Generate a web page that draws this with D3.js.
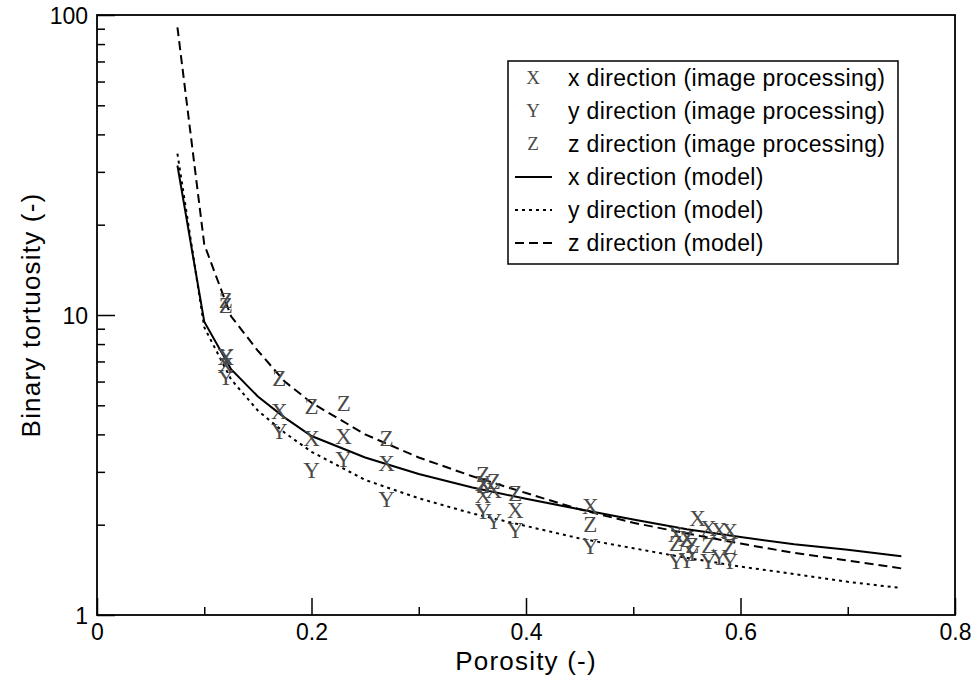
<!DOCTYPE html>
<html>
<head>
<meta charset="utf-8">
<script src="https://cdn.jsdelivr.net/npm/d3@7"></script>
<style>
  body { margin: 0; background: #fff; }
  text { font-family: "Liberation Sans", Arial, sans-serif; }
  .mark { font-family: "Liberation Serif", "Times New Roman", serif; fill: #4a4a4a; }
</style>
</head>
<body>
<svg id="chart" width="975" height="683"></svg>
<script>
//-------------------------------------------------
// Data
//-------------------------------------------------
// model curves, porosity values
var modelPorosity = [0.075, 0.1, 0.125, 0.15, 0.175, 0.2, 0.25, 0.3, 0.35, 0.4, 0.45, 0.5, 0.55, 0.6, 0.65, 0.7, 0.75];
var modelX = [31.5, 9.5, 6.6, 5.35, 4.55, 3.95, 3.35, 2.95, 2.66, 2.44, 2.25, 2.08, 1.93, 1.82, 1.72, 1.65, 1.57];
var modelY = [34.5, 9.1, 6.1, 4.8, 4.05, 3.5, 2.82, 2.45, 2.18, 1.98, 1.80, 1.67, 1.55, 1.45, 1.37, 1.29, 1.23];
var modelZ = [91, 17.2, 9.9, 7.6, 6.0, 5.1, 4.0, 3.35, 2.9, 2.55, 2.25, 2.03, 1.87, 1.73, 1.61, 1.52, 1.43];

// image processing points [porosity, tortuosity]
var imgX = [[0.12, 6.8], [0.12, 7.2], [0.17, 4.76], [0.2, 3.88], [0.23, 3.93], [0.27, 3.2],
  [0.36, 2.75], [0.36, 2.51], [0.37, 2.6], [0.39, 2.23], [0.46, 2.30],
  [0.54, 1.85], [0.55, 1.8], [0.56, 2.10], [0.57, 1.94], [0.58, 1.92], [0.59, 1.90]];
var imgY = [[0.12, 6.2], [0.12, 7.3], [0.17, 4.08], [0.2, 3.04], [0.23, 3.29], [0.27, 2.42],
  [0.36, 2.21], [0.37, 2.05], [0.39, 1.91], [0.46, 1.69],
  [0.54, 1.51], [0.55, 1.52], [0.555, 1.6], [0.57, 1.51], [0.58, 1.55], [0.59, 1.51]];
var imgZ = [[0.12, 11.2], [0.12, 10.8], [0.17, 6.15], [0.2, 4.95], [0.23, 5.08], [0.27, 3.88],
  [0.36, 2.95], [0.36, 2.7], [0.37, 2.78], [0.39, 2.55], [0.46, 2.0],
  [0.54, 1.73], [0.55, 1.78], [0.555, 1.71], [0.57, 1.71], [0.59, 1.69]];

var xMajor = [0, 0.2, 0.4, 0.6, 0.8];
var xMinor = [0.1, 0.3, 0.5, 0.7];
var yMajor = [1, 10, 100];
var yMinor = [2, 3, 4, 5, 6, 7, 8, 9, 20, 30, 40, 50, 60, 70, 80, 90];

var legendLabels = ["x direction (image processing)", "y direction (image processing)", "z direction (image processing)",
  "x direction (model)", "y direction (model)", "z direction (model)"];
//-------------------------------------------------

var margin = {top: 15, right: 20, bottom: 68, left: 97};
var width = 975 - margin.left - margin.right;
var height = 683 - margin.top - margin.bottom;

var svg = d3.select("#chart");
var g = svg.append("g").attr("transform", "translate(" + margin.left + "," + margin.top + ")");

var x = d3.scaleLinear().domain([0, 0.8]).range([0, width]);
var y = d3.scaleLog().domain([1, 100]).range([height, 0]);

// line styles
var styles = [
  {dash: null},
  {dash: "3,4"},
  {dash: "9,5"}
];

// curves
var line = d3.line()
  .x(function(d) { return x(d[0]); })
  .y(function(d) { return y(d[1]); });

[modelX, modelY, modelZ].forEach(function(vals, i) {
  var pts = modelPorosity.map(function(p, j) { return [p, vals[j]]; });
  g.append("path")
    .datum(pts)
    .attr("d", line)
    .attr("fill", "none")
    .attr("stroke", "#000")
    .attr("stroke-width", 2)
    .attr("stroke-dasharray", styles[i].dash);
});

// point markers drawn as letters
var markFont = 23;
[[imgX, "X"], [imgY, "Y"], [imgZ, "Z"]].forEach(function(s) {
  g.selectAll(null)
    .data(s[0])
    .enter()
    .append("text")
    .attr("class", "mark")
    .attr("x", function(d) { return x(d[0]); })
    .attr("y", function(d) { return y(d[1]) + markFont * 0.33; })
    .attr("text-anchor", "middle")
    .style("font-size", markFont + "px")
    .text(s[1]);
});

// axes
var xAxis = g.append("g").attr("transform", "translate(0," + height + ")")
  .call(d3.axisBottom(x).tickValues(xMajor).tickSize(-17).tickPadding(9)
    .tickFormat(function(d) { return d === 0 ? "0" : d3.format(".1f")(d); }));
xAxis.append("g")
  .call(d3.axisBottom(x).tickValues(xMinor).tickSize(-8).tickFormat(""));

var yAxis = g.append("g")
  .call(d3.axisLeft(y).tickValues(yMajor).tickSize(-18).tickPadding(9).tickFormat(d3.format("d")));
yAxis.append("g")
  .call(d3.axisLeft(y).tickValues(yMinor).tickSize(-8).tickFormat(""));

g.selectAll(".domain").remove();
g.selectAll(".tick line").attr("stroke", "#000").attr("stroke-width", 1.5);
xAxis.selectAll("text").style("font-size", "23px").attr("fill", "#000");
yAxis.selectAll("text").style("font-size", "23px").attr("fill", "#000").attr("dy", "0.36em");

// frame
g.append("rect")
  .attr("width", width)
  .attr("height", height)
  .attr("fill", "none")
  .attr("stroke", "#000")
  .attr("stroke-width", 1.8);

// axis titles
svg.append("text")
  .attr("x", margin.left + width / 2)
  .attr("y", 670)
  .attr("text-anchor", "middle")
  .style("font-size", "26px")
  .style("letter-spacing", "1.2px")
  .text("Porosity (-)");

svg.append("text")
  .attr("transform", "translate(40," + (margin.top + height / 2) + ") rotate(-90)")
  .attr("text-anchor", "middle")
  .style("font-size", "26px")
  .style("letter-spacing", "1.2px")
  .text("Binary tortuosity (-)");

// legend
var key = svg.append("g").attr("class", "legend").attr("transform", "translate(508,61)");
key.append("rect")
  .attr("width", 390)
  .attr("height", 203)
  .attr("fill", "#fff")
  .attr("stroke", "#000")
  .attr("stroke-width", 1.5);

var rowH = 33;
["X", "Y", "Z"].forEach(function(c, i) {
  key.append("text")
    .attr("class", "mark")
    .attr("x", 25)
    .attr("y", 17 + i * rowH + 19 * 0.33)
    .attr("text-anchor", "middle")
    .style("font-size", "19px")
    .text(c);
});
styles.forEach(function(s, i) {
  key.append("line")
    .attr("x1", 7)
    .attr("x2", 44)
    .attr("y1", 17 + (i + 3) * rowH)
    .attr("y2", 17 + (i + 3) * rowH)
    .attr("stroke", "#000")
    .attr("stroke-width", 2)
    .attr("stroke-dasharray", s.dash);
});
legendLabels.forEach(function(t, i) {
  key.append("text")
    .attr("x", 60)
    .attr("y", 17 + i * rowH)
    .attr("dy", "0.36em")
    .style("font-size", "23px")
    .style("letter-spacing", "0.35px")
    .text(t);
});
</script>
</body>
</html>
